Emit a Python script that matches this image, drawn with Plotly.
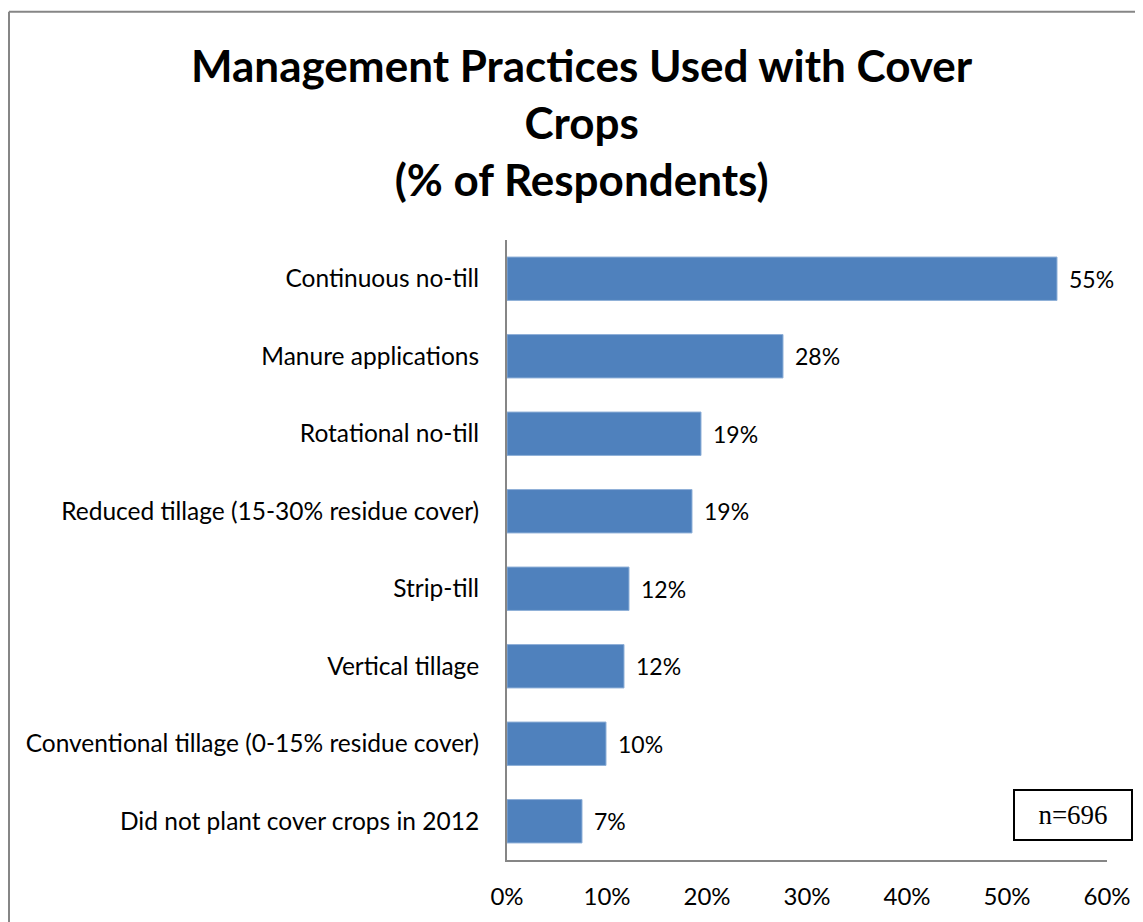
import plotly.graph_objects as go

# categories top-to-bottom as shown
practices = [
    "Continuous no-till",
    "Manure applications",
    "Rotational no-till",
    "Reduced tillage (15-30% residue cover)",
    "Strip-till",
    "Vertical tillage",
    "Conventional tillage (0-15% residue cover)",
    "Did not plant cover crops in 2012",
]
share = [0.550, 0.276, 0.194, 0.185, 0.122, 0.117, 0.099, 0.075]
share_labels = ["55%", "28%", "19%", "19%", "12%", "12%", "10%", "7%"]
x_ticks = [0, 0.1, 0.2, 0.3, 0.4, 0.5, 0.6]
chart_title = "Management Practices Used with Cover<br>Crops<br>(% of Respondents)"
sample_note = "n=696"

BAR_BLUE = "#4F81BD"
AXIS_GRAY = "#868686"
FONT = "Lato, 'Open Sans', sans-serif"

fig = go.Figure(
    go.Bar(
        x=share,
        y=practices,
        orientation="h",
        marker=dict(color=BAR_BLUE, line=dict(color="#8FB0D8", width=1)),
        hoverinfo="skip",
    )
)

# value labels just past the bar ends
for p, v, lab in zip(practices, share, share_labels):
    fig.add_annotation(
        x=v, y=p, text=lab, showarrow=False, xanchor="left", xshift=10,
        font=dict(family=FONT, size=23, color="#000000"),
    )

# page body adds an 8px offset, so the figure is a bit smaller than the window
fig.update_layout(
    width=1135,
    height=914,
    plot_bgcolor="white",
    paper_bgcolor="white",
    font=dict(family=FONT, color="#000000", size=23),
    margin=dict(l=499, r=36, t=232, b=60),
    bargap=0.44,
    showlegend=False,
    xaxis=dict(
        range=[0, 0.6],
        tickvals=x_ticks,
        tickformat=".0%",
        showgrid=False,
        zeroline=False,
        showline=True,
        linecolor=AXIS_GRAY,
        linewidth=2,
        ticks="",
        ticklabelstandoff=14,
        tickfont=dict(family=FONT, size=24),
    ),
    yaxis=dict(
        categoryorder="array",
        categoryarray=practices[::-1],
        showgrid=False,
        zeroline=False,
        showline=True,
        linecolor=AXIS_GRAY,
        linewidth=2,
        ticks="",
        ticklabelstandoff=21,
        tickfont=dict(family=FONT, size=24.5),
    ),
)

# title
fig.add_annotation(
    xref="paper", yref="paper", x=0.125, y=1.1897, xanchor="center", yanchor="middle",
    text=chart_title, showarrow=False,
    font=dict(family=FONT, size=44, color="#000000", weight="bold"),
)

# outer chart-area border (left and top edges visible)
fig.add_shape(type="line", xref="paper", yref="paper", x0=-0.83, x1=1.2, y0=1.368, y1=1.368,
              line=dict(color=AXIS_GRAY, width=2))
fig.add_shape(type="line", xref="paper", yref="paper", x0=-0.83, x1=-0.83, y0=1.368, y1=-0.2,
              line=dict(color=AXIS_GRAY, width=2))

# sample size box
fig.add_annotation(
    xref="paper", yref="paper", x=0.943, y=0.072, xanchor="center", yanchor="middle",
    text=sample_note, showarrow=False,
    font=dict(family="Liberation Serif, serif", size=27, color="#000000"),
    bordercolor="#000000", borderwidth=2, borderpad=10, bgcolor="white",
    width=96, height=28,
)

fig.write_html("out.html")
